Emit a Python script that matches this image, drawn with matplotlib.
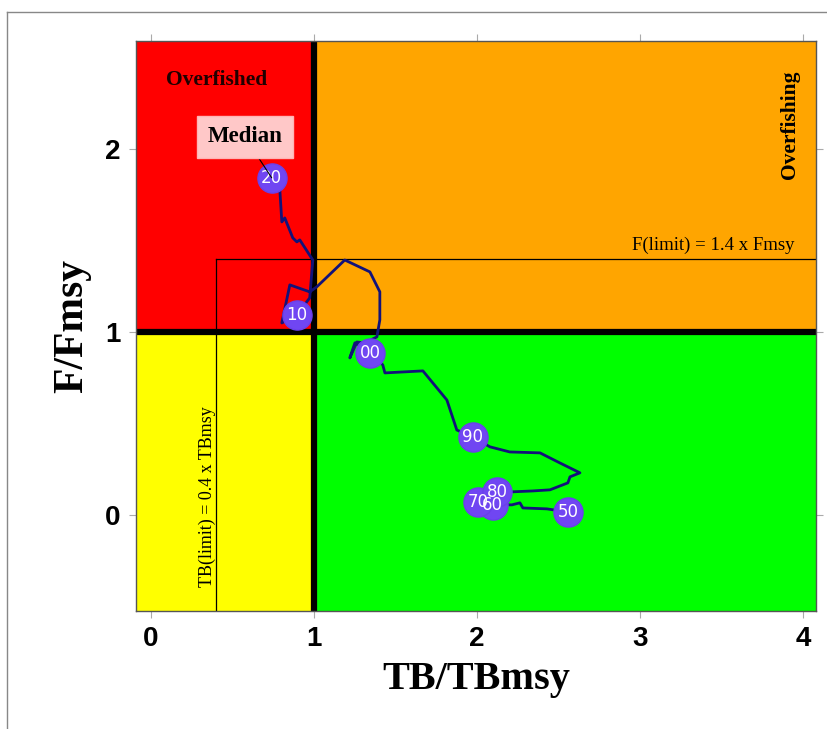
import matplotlib
matplotlib.use("Agg")
import matplotlib.pyplot as plt
from matplotlib.lines import Line2D

# trajectory (TB/TBmsy, F/Fmsy), 1950 -> 2020
tb = [2.558, 2.429, 2.282, 2.264, 2.215, 2.098, 2.006, 2.123, 2.215, 2.344,
      2.448, 2.558, 2.571, 2.632, 2.509, 2.387, 2.202, 2.080, 1.975, 1.877,
      1.816, 1.669, 1.436, 1.423, 1.344, 1.252, 1.221, 1.264, 1.313, 1.387,
      1.405, 1.405, 1.344, 1.190, 1.018, 0.975, 0.853, 0.804, 0.896, 0.975,
      0.994, 0.914, 0.896, 0.871, 0.822, 0.804, 0.791, 0.742]
ff = [0.016, 0.033, 0.038, 0.066, 0.055, 0.055, 0.071, 0.126, 0.126, 0.131,
      0.137, 0.175, 0.208, 0.230, 0.284, 0.339, 0.344, 0.372, 0.426, 0.464,
      0.628, 0.787, 0.776, 0.820, 0.885, 0.940, 0.858, 0.945, 0.940, 0.973,
      1.066, 1.219, 1.328, 1.393, 1.246, 1.219, 1.257, 1.049, 1.093, 1.186,
      1.393, 1.503, 1.492, 1.514, 1.623, 1.601, 1.787, 1.842]

decade_labels = ["50", "60", "70", "80", "90", "00", "10", "20"]
decade_idx = [0, 5, 6, 7, 18, 24, 38, 47]

tb_limit = 0.4
f_limit = 1.4
xlim = (-0.09, 4.08)
ylim = (-0.525, 2.59)

fig = plt.figure(figsize=(8.28, 7.29), dpi=100)
ax = fig.add_axes([0.1643, 0.1619, 0.8213, 0.7819])
ax.set_xlim(*xlim)
ax.set_ylim(*ylim)

# quadrants
ax.fill_between([xlim[0], 1], 1, ylim[1], color="#FF0000", lw=0, zorder=0)
ax.fill_between([1, xlim[1]], 1, ylim[1], color="#FFA500", lw=0, zorder=0)
ax.fill_between([xlim[0], 1], ylim[0], 1, color="#FFFF00", lw=0, zorder=0)
ax.fill_between([1, xlim[1]], ylim[0], 1, color="#00FF00", lw=0, zorder=0)

# limit reference lines
ax.plot([tb_limit, tb_limit], [ylim[0], f_limit], color="black", lw=0.9, zorder=1)
ax.plot([tb_limit, xlim[1]], [f_limit, f_limit], color="black", lw=0.9, zorder=1)
ax.axvline(1, color="black", lw=4.5, zorder=2)
ax.axhline(1, color="black", lw=4.5, zorder=2)

serif = "Liberation Serif"
ax.text(0.405, 2.377, "Overfished", fontsize=15.5, fontweight="bold",
        family=serif, ha="center", va="center", color="#200000")
ax.text(3.92, 2.13, "Overfishing", fontsize=15.5, fontweight="bold",
        family=serif, ha="center", va="center", rotation=90)
ax.text(3.95, 1.425, "F(limit) = 1.4 x Fmsy", fontsize=13.5, family=serif,
        ha="right", va="bottom")
ax.text(0.345, 0.1, "TB(limit) = 0.4 x TBmsy", fontsize=13, family=serif,
        ha="center", va="center", rotation=90)

# trajectory
ax.plot(tb, ff, color="#12127A", lw=2, zorder=3)
mx = [tb[i] for i in decade_idx]
my = [ff[i] for i in decade_idx]
ax.scatter(mx, my, s=440, color="#7046F2", edgecolor="#6A40EA", zorder=4)
for lab, x, y in zip(decade_labels, mx, my):
    ax.text(x, y, lab, color="white", fontsize=12, ha="center", va="center", zorder=5)

ax.annotate("Median", xy=(tb[-1], ff[-1]), xytext=(0.577, 2.066),
            fontsize=16.5, fontweight="bold", family=serif, ha="center", va="center",
            bbox=dict(boxstyle="square,pad=0.45", fc="#FFC8C8", ec="#FFB4B4"),
            arrowprops=dict(arrowstyle="-", color="black", lw=0.8,
                            shrinkA=0, shrinkB=0),
            zorder=6)

# axes styling
ax.set_xticks([0, 1, 2, 3, 4])
ax.set_yticks([0, 1, 2])
for lab in ax.get_xticklabels() + ax.get_yticklabels():
    lab.set_fontweight("bold")
    lab.set_fontsize(20)
    lab.set_family("Liberation Sans")
ax.tick_params(direction="out", length=5, color="#AAAAAA", pad=6)
ax.tick_params(top=True, right=True, which="both")
for sp in ax.spines.values():
    sp.set_color("#555555")
    sp.set_linewidth(1)
ax.set_xlabel("TB/TBmsy", fontsize=29, fontweight="bold", family=serif, labelpad=6)
ax.set_ylabel("F/Fmsy", fontsize=30, fontweight="bold", family=serif, labelpad=10)

# outer frame
fig.add_artist(Line2D([7 / 828, 1], [1 - 12 / 729, 1 - 12 / 729], color="#888888", lw=1))
fig.add_artist(Line2D([7 / 828, 7 / 828], [0, 1 - 12 / 729], color="#888888", lw=1))

fig.savefig("out.png", dpi=100)
